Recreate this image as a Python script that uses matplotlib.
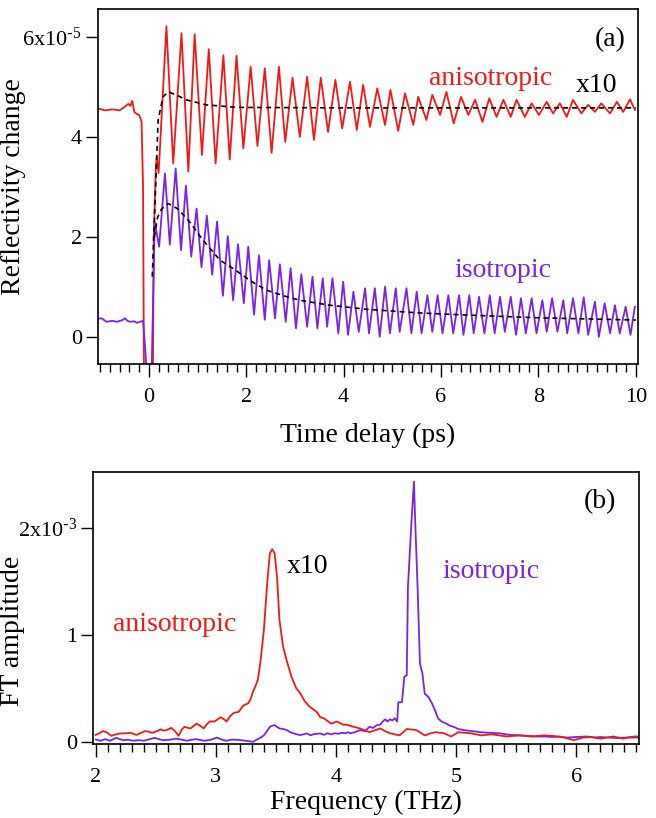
import matplotlib
matplotlib.use("Agg")
import matplotlib.pyplot as plt
from matplotlib.ticker import MultipleLocator, FixedLocator, FixedFormatter

plt.rcParams["font.family"] = ["Liberation Serif", "DejaVu Serif"]
plt.rcParams["mathtext.default"] = "regular"

RED = "#f01818"
PURPLE = "#7b22e6"

# ---- panel (a): reflectivity change, units of 1e-5 (extrema)
aniso_t = [-1.05, -0.9, -0.75, -0.6, -0.5, -0.42, -0.38, -0.34, -0.3, -0.25, -0.2, -0.15,
           -0.12, -0.1, 0.08, 0.10, 0.14, 0.16, 0.20,
           0.36, 0.50, 0.67, 0.81, 0.94, 1.09, 1.23, 1.37, 1.53, 1.66, 1.80, 1.94,
           2.09, 2.23, 2.38, 2.52, 2.67, 2.80, 2.95, 3.10, 3.25, 3.39, 3.53, 3.68,
           3.83, 3.97, 4.13, 4.27, 4.40, 4.54, 4.69, 4.85, 4.96, 5.12, 5.26, 5.43,
           5.53, 5.70, 5.82, 5.98, 6.11, 6.26, 6.41, 6.56, 6.70, 6.85, 6.99, 7.14,
           7.28, 7.43, 7.55, 7.72, 7.86, 8.01, 8.17, 8.30, 8.44, 8.58, 8.71, 8.88,
           9.02, 9.16, 9.29, 9.47, 9.61, 9.74, 9.88, 9.98]
aniso_v = [4.57, 4.53, 4.55, 4.53, 4.60, 4.66, 4.62, 4.72, 4.50, 4.46, 4.44, 4.30,
           3.0, -1.0, -1.0, 2.0, 3.3, 3.6, 3.28,
           6.21, 3.47, 6.07, 3.31, 6.05, 3.64, 5.75, 3.47, 5.63, 3.55, 5.62, 3.77,
           5.40, 3.82, 5.37, 3.68, 5.40, 3.90, 5.18, 4.00, 5.20, 3.94, 5.18, 4.10,
           5.14, 4.17, 5.10, 4.14, 5.04, 4.20, 4.97, 4.24, 4.94, 4.12, 4.87, 4.24,
           4.80, 4.34, 4.84, 4.44, 4.90, 4.27, 4.80, 4.44, 4.74, 4.30, 4.77, 4.40,
           4.74, 4.40, 4.74, 4.40, 4.67, 4.44, 4.70, 4.47, 4.67, 4.40, 4.74, 4.47,
           4.64, 4.50, 4.67, 4.47, 4.70, 4.50, 4.75, 4.54]

iso_t = [-1.05, -0.97, -0.87, -0.75, -0.66, -0.55, -0.49, -0.44, -0.39, -0.3, -0.25,
         -0.18, -0.12, -0.07, -0.03, 0.05, 0.12, 0.21,
         0.33, 0.43, 0.55, 0.66, 0.76, 0.87, 0.98, 1.08, 1.19, 1.30, 1.40, 1.52,
         1.62, 1.73, 1.83, 1.95, 2.04, 2.16, 2.26, 2.38, 2.47, 2.59, 2.69, 2.81,
         2.91, 3.02, 3.13, 3.25, 3.36, 3.46, 3.57, 3.66, 3.77, 3.89, 3.99, 4.09,
         4.20, 4.31, 4.44, 4.52, 4.64, 4.74, 4.85, 4.95, 5.07, 5.15, 5.29, 5.39,
         5.50, 5.60, 5.72, 5.82, 5.93, 6.03, 6.15, 6.25, 6.37, 6.46, 6.58, 6.67,
         6.78, 6.89, 7.00, 7.10, 7.21, 7.31, 7.43, 7.54, 7.64, 7.74, 7.86, 7.96,
         8.08, 8.17, 8.28, 8.39, 8.51, 8.59, 8.71, 8.82, 8.93, 9.02, 9.16, 9.24,
         9.36, 9.47, 9.57, 9.67, 9.79, 9.89, 9.98]
iso_v = [0.37, 0.38, 0.31, 0.33, 0.31, 0.34, 0.38, 0.33, 0.31, 0.32, 0.29,
         0.31, 0.33, -0.3, -1.0, -1.0, 2.3, 1.81,
         3.27, 1.85, 3.37, 1.74, 3.03, 1.61, 2.57, 1.40, 2.43, 1.25, 2.31, 0.83,
         2.02, 0.74, 1.86, 0.68, 1.81, 0.45, 1.64, 0.35, 1.54, 0.38, 1.46, 0.31,
         1.38, 0.18, 1.26, 0.21, 1.21, 0.18, 1.18, 0.21, 1.18, 0.08, 1.11, 0.05,
         0.91, 0.11, 0.98, 0.08, 0.98, 0.01, 1.01, 0.08, 0.98, 0.11, 0.98, 0.08,
         0.91, 0.08, 0.84, 0.11, 0.84, 0.08, 0.84, 0.08, 0.84, 0.05, 0.84, 0.08,
         0.81, 0.08, 0.84, 0.08, 0.81, 0.11, 0.81, 0.05, 0.78, 0.08, 0.78, 0.08,
         0.74, 0.11, 0.78, 0.11, 0.74, 0.08, 0.78, 0.08, 0.80, 0.05, 0.71, 0.01,
         0.68, 0.08, 0.64, 0.08, 0.61, 0.05, 0.61]

aniso_fit_t = [0.07, 0.13, 0.19, 0.29, 0.40, 0.60, 0.77, 1.18, 1.80, 4.0, 10.0]
aniso_fit_v = [1.21, 2.8, 4.34, 4.80, 4.90, 4.82, 4.74, 4.64, 4.59, 4.58, 4.58]

iso_fit_t = [0.11, 0.18, 0.26, 0.40, 0.60, 0.84, 1.11, 1.46, 1.75, 2.10, 2.42, 2.80,
             3.10, 3.72, 4.47, 5.50, 6.52, 8.00, 10.0]
iso_fit_v = [2.0, 2.4, 2.56, 2.67, 2.56, 2.30, 1.94, 1.54, 1.36, 1.12, 0.94, 0.82,
             0.74, 0.64, 0.56, 0.49, 0.445, 0.39, 0.345]

# ---- panel (b): FT amplitude, units of 1e-3
ft_aniso_f = [2.00, 2.03, 2.06, 2.09, 2.13, 2.17, 2.20, 2.25, 2.29, 2.34, 2.38, 2.41,
              2.44, 2.47, 2.51, 2.54, 2.57, 2.59, 2.63, 2.66, 2.69, 2.72, 2.74, 2.77,
              2.79, 2.84, 2.87, 2.90, 2.93, 2.95, 2.99, 3.04, 3.07, 3.09, 3.12, 3.15,
              3.19, 3.23, 3.27, 3.29, 3.31, 3.33, 3.35, 3.37, 3.40, 3.43, 3.45, 3.47,
              3.49, 3.51, 3.53, 3.56, 3.59, 3.63, 3.67, 3.70, 3.74, 3.78, 3.84, 3.87,
              3.90, 3.96, 4.01, 4.06, 4.09, 4.15, 4.20, 4.28, 4.33, 4.37, 4.41, 4.45,
              4.53, 4.59, 4.67, 4.74, 4.79, 4.83, 4.90, 4.96, 5.02, 5.07, 5.12, 5.21,
              5.30, 5.42, 5.53, 5.64, 5.72, 5.81, 5.90, 5.98, 6.06, 6.13, 6.20, 6.26,
              6.31, 6.39, 6.45, 6.49, 6.52]
ft_aniso_a = [0.065, 0.08, 0.10, 0.09, 0.056, 0.07, 0.078, 0.08, 0.084, 0.065, 0.085, 0.10,
              0.095, 0.084, 0.10, 0.116, 0.105, 0.11, 0.13, 0.10, 0.056, 0.12, 0.14, 0.13,
              0.125, 0.17, 0.15, 0.125, 0.17, 0.19, 0.19, 0.23, 0.21, 0.19, 0.24, 0.27,
              0.28, 0.34, 0.36, 0.40, 0.47, 0.52, 0.58, 0.73, 1.04, 1.51, 1.76, 1.80,
              1.76, 1.54, 1.14, 0.89, 0.76, 0.61, 0.50, 0.46, 0.38, 0.33, 0.28, 0.23,
              0.22, 0.17, 0.19, 0.16, 0.16, 0.14, 0.125, 0.09, 0.11, 0.125, 0.10, 0.08,
              0.06, 0.12, 0.11, 0.06, 0.08, 0.09, 0.08, 0.05, 0.09, 0.085, 0.08, 0.06,
              0.07, 0.05, 0.06, 0.05, 0.06, 0.055, 0.04, 0.016, 0.04, 0.045, 0.03, 0.04,
              0.05, 0.03, 0.045, 0.05, 0.05]

ft_iso_f = [2.00, 2.04, 2.08, 2.12, 2.17, 2.23, 2.27, 2.31, 2.36, 2.40, 2.45, 2.49,
            2.56, 2.62, 2.67, 2.72, 2.76, 2.80, 2.84, 2.88, 2.91, 2.96, 3.01, 3.05,
            3.09, 3.13, 3.17, 3.21, 3.25, 3.31, 3.34, 3.37, 3.40, 3.42, 3.45, 3.47,
            3.49, 3.51, 3.53, 3.56, 3.59, 3.62, 3.65, 3.70, 3.73, 3.76, 3.79, 3.81,
            3.84, 3.87, 3.90, 3.93, 3.96, 3.99, 4.02, 4.05, 4.08, 4.10, 4.12, 4.16,
            4.20, 4.24, 4.28, 4.31, 4.34, 4.37, 4.39, 4.41, 4.43, 4.45, 4.47, 4.49,
            4.51, 4.52, 4.55, 4.57, 4.59, 4.60, 4.63, 4.65, 4.66, 4.68, 4.70, 4.72,
            4.74, 4.77, 4.80, 4.83, 4.85, 4.88, 4.92, 4.95, 4.98, 5.02, 5.06, 5.10,
            5.14, 5.20, 5.28, 5.36, 5.45, 5.53, 5.60, 5.67, 5.74, 5.81, 5.86, 5.92,
            6.00, 6.09, 6.15, 6.20, 6.27, 6.34, 6.42, 6.49, 6.52]
ft_iso_a = [0.022, 0.01, 0.025, 0.01, 0.037, 0.015, 0.02, 0.01, 0.015, 0.01, 0.025, 0.037,
            0.015, 0.02, 0.03, 0.02, 0.01, 0.02, 0.025, 0.015, 0.01, 0.02, 0.04, 0.02,
            0.01, 0.02, 0.02, 0.015, 0.01, 0.0, 0.02, 0.037, 0.06, 0.09, 0.14, 0.15,
            0.156, 0.14, 0.125, 0.12, 0.11, 0.09, 0.078, 0.063, 0.07, 0.078, 0.06, 0.07,
            0.075, 0.078, 0.065, 0.08, 0.07, 0.08, 0.075, 0.084, 0.08, 0.09, 0.08, 0.09,
            0.11, 0.10, 0.14, 0.13, 0.156, 0.16, 0.19, 0.21, 0.19, 0.21, 0.20, 0.22,
            0.19, 0.37, 0.37, 0.61, 0.62, 1.45, 2.07, 2.43, 2.07, 1.45, 0.73, 0.64,
            0.45, 0.42, 0.36, 0.28, 0.22, 0.19, 0.17, 0.15, 0.14, 0.12, 0.11, 0.105,
            0.10, 0.09, 0.084, 0.08, 0.065, 0.06, 0.055, 0.05, 0.05, 0.045, 0.05, 0.04,
            0.045, 0.05, 0.04, 0.045, 0.04, 0.035, 0.04, 0.04, 0.04]

fig = plt.figure(figsize=(6.56, 8.18), dpi=100)
ax1 = fig.add_axes([0.149, 0.5546, 0.824, 0.434])
ax2 = fig.add_axes([0.1422, 0.0905, 0.8323, 0.3321])

# panel (a)
ax1.plot(aniso_t, aniso_v, color=RED, lw=1.3, solid_joinstyle="round")
ax1.plot(iso_t, iso_v, color=PURPLE, lw=1.3, solid_joinstyle="round")
ax1.plot(aniso_fit_t, aniso_fit_v, color="black", lw=1.2, dashes=(3, 2.4))
ax1.plot(iso_fit_t, iso_fit_v, color="black", lw=1.2, dashes=(3, 2.4))

ax1.set_xlim(-1.05, 10.05)
ax1.set_ylim(-0.539, 6.547)
ax1.xaxis.set_major_locator(MultipleLocator(2))
ax1.xaxis.set_minor_locator(MultipleLocator(0.2))
ax1.yaxis.set_major_locator(FixedLocator([0, 2, 4, 6]))
ax1.yaxis.set_major_formatter(FixedFormatter(["0", "2", "4", r"6x10$^{\text{-}5}$"]))
ax1.set_ylabel("Reflectivity change", fontsize=20)
ax1.yaxis.set_label_coords(-0.133, 0.5)
ax1.set_xlabel("Time delay (ps)", fontsize=20)
ax1.xaxis.set_label_coords(0.5, -0.199)
ax1.xaxis.label.set_va("center")

ax1.text(0.9486, 0.895, "(a)", transform=ax1.transAxes, fontsize=20,
         ha="center", va="baseline")
ax1.text(0.727, 0.787, "anisotropic", transform=ax1.transAxes, fontsize=20,
         color=RED, ha="center", va="baseline")
ax1.text(0.923, 0.768, "x10", transform=ax1.transAxes, fontsize=20,
         ha="center", va="baseline")
ax1.text(0.749, 0.247, "isotropic", transform=ax1.transAxes, fontsize=20,
         color=PURPLE, ha="center", va="baseline")

# panel (b)
ax2.plot(ft_iso_f, ft_iso_a, color=PURPLE, lw=1.3)
ax2.plot(ft_aniso_f, ft_aniso_a, color=RED, lw=1.3)

ax2.set_xlim(1.98, 6.526)
ax2.set_ylim(-0.02, 2.518)
ax2.xaxis.set_major_locator(MultipleLocator(1))
ax2.xaxis.set_minor_locator(MultipleLocator(0.1))
ax2.yaxis.set_major_locator(FixedLocator([0, 1, 2]))
ax2.yaxis.set_major_formatter(FixedFormatter(["0", "1", r"2x10$^{\text{-}3}$"]))
ax2.set_ylabel("FT amplitude", fontsize=20)
ax2.yaxis.set_label_coords(-0.125, 0.418)
ax2.set_xlabel("Frequency (THz)", fontsize=20)
ax2.xaxis.set_label_coords(0.499, -0.217)
ax2.xaxis.label.set_va("center")

ax2.text(0.928, 0.8675, "(b)", transform=ax2.transAxes, fontsize=20,
         ha="center", va="baseline")
ax2.text(0.392, 0.628, "x10", transform=ax2.transAxes, fontsize=20,
         ha="center", va="baseline")
ax2.text(0.1496, 0.417, "anisotropic", transform=ax2.transAxes, fontsize=20,
         color=RED, ha="center", va="baseline")
ax2.text(0.7288, 0.61, "isotropic", transform=ax2.transAxes, fontsize=20,
         color=PURPLE, ha="center", va="baseline")

for ax in (ax1, ax2):
    for sp in ax.spines.values():
        sp.set_linewidth(1.2)
    ax.tick_params(axis="both", which="both", direction="out", width=1.0,
                   labelsize=16, top=False, right=False)
    ax.tick_params(axis="x", which="major", length=9, pad=8)
    ax.tick_params(axis="x", which="minor", length=6)
    ax.tick_params(axis="y", which="major", length=8.5, pad=3)
    ax.tick_params(axis="y", which="minor", left=False)

fig.savefig("out.png", dpi=100)
